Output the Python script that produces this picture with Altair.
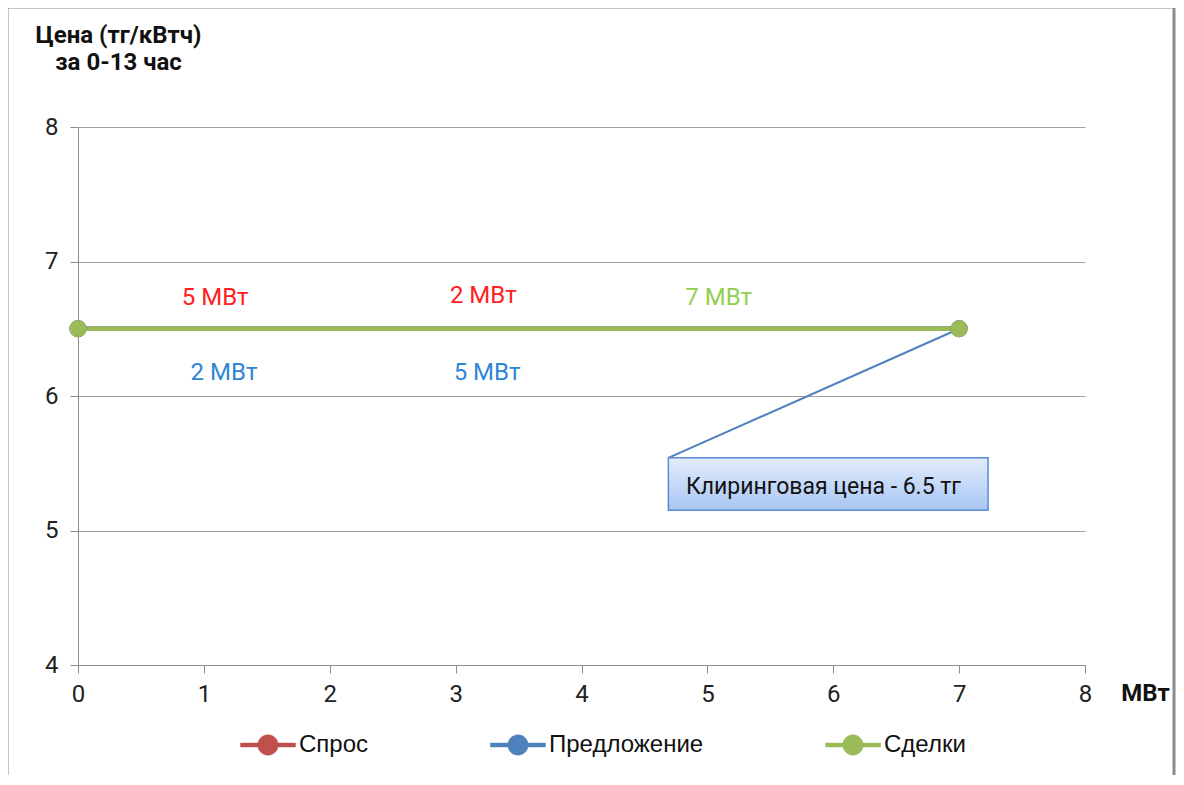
import altair as alt
import pandas as pd

# ---------------- data ----------------
series_names = ["Спрос", "Предложение", "Сделки"]
series_colors = ["#C0504D", "#4F81BD", "#9BBB59"]

demand_mw = [0, 7]
demand_price = [6.5, 6.5]
supply_mw = [0, 7]
supply_price = [6.5, 6.5]
deals_mw = [0, 7]
deals_price = [6.5, 6.5]

label_text = ["5 МВт", "2 МВт", "7 МВт", "2 МВт", "5 МВт"]
label_series = ["Спрос", "Спрос", "Сделки", "Предложение", "Предложение"]
label_mw = [1.09, 3.22, 5.09, 1.16, 3.25]
label_price = [6.73, 6.74, 6.73, 6.17, 6.17]
label_colors = ["#FF2020", "#2E86D6", "#92D050"]  # Спрос, Предложение, Сделки

callout_text = ["Клиринговая цена - 6.5 тг"]
callout_mw = [4.69, 7.23]
callout_price = [5.54, 5.15]
callout_text_mw = [4.83]
callout_text_price = [5.32]
leader_mw = [4.69, 7.0]
leader_price = [5.54, 6.5]

x_ticks = [0, 1, 2, 3, 4, 5, 6, 7, 8]
y_ticks = [4, 5, 6, 7, 8]

# ---------------- frames ----------------
rows = []
for name, xs, ys in zip(series_names,
                        [demand_mw, supply_mw, deals_mw],
                        [demand_price, supply_price, deals_price]):
    for i, (a, b) in enumerate(zip(xs, ys)):
        rows.append({"series": name, "mw": a, "price": b, "idx": i})
series_df = pd.DataFrame(rows)

labels_df = pd.DataFrame({"text": label_text, "series": label_series,
                          "mw": label_mw, "price": label_price})
box_df = pd.DataFrame({"mw": [callout_mw[0]], "mw2": [callout_mw[1]],
                       "price": [callout_price[0]], "price2": [callout_price[1]]})
leader_df = pd.DataFrame({"mw": [leader_mw[0]], "mw2": [leader_mw[1]],
                          "price": [leader_price[0]], "price2": [leader_price[1]]})
ctext_df = pd.DataFrame({"text": callout_text, "mw": callout_text_mw,
                         "price": callout_text_price})
frame_df = pd.DataFrame({"k": [0]})

FONT = "Roboto"
AX = "#8c8c8c"

x_axis = alt.Axis(values=x_ticks, grid=False, domainColor=AX, tickColor=AX,
                  tickSize=8, labelFont=FONT, labelFontSize=24, labelColor="#222",
                  labelPadding=9, labelFlush=False, format="d",
                  title="МВт", titleFont=FONT, titleFontSize=24,
                  titleFontWeight="bold", titleColor="#111",
                  titleX=1067, titleY=28, titleAlign="center",
                  titleBaseline="middle")
y_axis = alt.Axis(values=y_ticks, grid=True, gridColor="#a0a0a0", domainColor=AX,
                  tickColor=AX, tickSize=8, labelFont=FONT, labelFontSize=24,
                  labelColor="#222", labelPadding=12, format="d",
                  title=["Цена (тг/кВтч)", "за 0-13 час"], titleFont=FONT,
                  titleFontSize=24, titleFontWeight="bold", titleColor="#111",
                  titleAngle=0, titleX=40, titleY=-104, titleAlign="center",
                  titleBaseline="top", titleLineHeight=27)

x_scale = alt.Scale(domain=[0, 8], nice=False, zero=False)
y_scale = alt.Scale(domain=[4, 8], nice=False, zero=False)

X = alt.X("mw:Q", scale=x_scale, axis=x_axis)
Y = alt.Y("price:Q", scale=y_scale, axis=y_axis)

# legend symbol: a short line with a dot in the middle (closed shapes, filled)
legend_symbol = ("M-1,-0.07H1V0.07H-1Z "
                 "M0.37,0A0.37,0.37 0 1,1 -0.37,0A0.37,0.37 0 1,1 0.37,0Z")
legend = alt.Legend(title=None, orient="none", legendX=162, legendY=590,
                    direction="horizontal", columns=3, symbolType=legend_symbol,
                    symbolSize=3025, symbolStrokeWidth=0.5, symbolOpacity=1,
                    labelFont="Liberation Sans", labelFontSize=24,
                    labelColor="#111", labelOffset=3, columnPadding=120,
                    padding=0, rowPadding=0, labelLimit=400)

stroke_scale = alt.Scale(domain=series_names, range=series_colors)
fill_scale = alt.Scale(domain=series_names, range=series_colors)

layers = []

# outer frame
layers.append(
    alt.Chart(frame_df).mark_rect(filled=False, stroke="#8c8c8c", strokeWidth=3,
                                  clip=False)
    .encode(x=alt.value(-71), x2=alt.value(1096), y=alt.value(-120),
            y2=alt.value(700))
)

# leader line of the callout
layers.append(
    alt.Chart(leader_df).mark_rule(color="#4F81BD", strokeWidth=2)
    .encode(x=X, y=Y, x2="mw2:Q", y2="price2:Q")
)

# callout shadow + box + text
layers.append(
    alt.Chart(box_df).mark_rect(fill="#808080", opacity=0.45, xOffset=3, yOffset=4)
    .encode(x=X, y=Y, x2="mw2:Q", y2="price2:Q")
)
layers.append(
    alt.Chart(box_df).mark_rect(
        fill=alt.Gradient(gradient="linear",
                          stops=[alt.GradientStop(color="#E2ECFC", offset=0),
                                 alt.GradientStop(color="#A8C6F3", offset=1)],
                          x1=0, x2=0, y1=0, y2=1),
        stroke="#5B8BD0", strokeWidth=1.5)
    .encode(x=X, y=Y, x2="mw2:Q", y2="price2:Q")
)
layers.append(
    alt.Chart(ctext_df).mark_text(align="left", baseline="middle", font=FONT,
                                  fontSize=23, color="#111")
    .encode(x=X, y=Y, text="text:N")
)

# series lines (deals drawn last, on top)
for name in series_names:
    layers.append(
        alt.Chart(series_df).transform_filter(alt.datum.series == name)
        .mark_line(strokeWidth=4.5)
        .encode(x=X, y=Y, order="idx:Q",
                stroke=alt.Stroke("series:N", scale=stroke_scale, legend=legend))
    )
for name in series_names:
    layers.append(
        alt.Chart(series_df).transform_filter(alt.datum.series == name)
        .mark_point(filled=True, size=290, opacity=1, strokeWidth=0)
        .encode(x=X, y=Y,
                fill=alt.Fill("series:N", scale=fill_scale, legend=legend))
    )

# volume labels, coloured per series
for name, col in zip(series_names, label_colors):
    layers.append(
        alt.Chart(labels_df).transform_filter(alt.datum.series == name)
        .mark_text(align="center", baseline="middle", font=FONT, fontSize=24,
                   color=col)
        .encode(x=X, y=Y, text="text:N")
    )

chart = alt.layer(*layers).properties(
    width=1007, height=538,
    autosize=alt.AutoSizeParams(type="none"),
    padding={"left": 70, "top": 119, "right": 91, "bottom": 110},
    background="white",
).configure_view(stroke=None)

chart.save("out.html", embed_options={"renderer": "svg", "actions": False})
